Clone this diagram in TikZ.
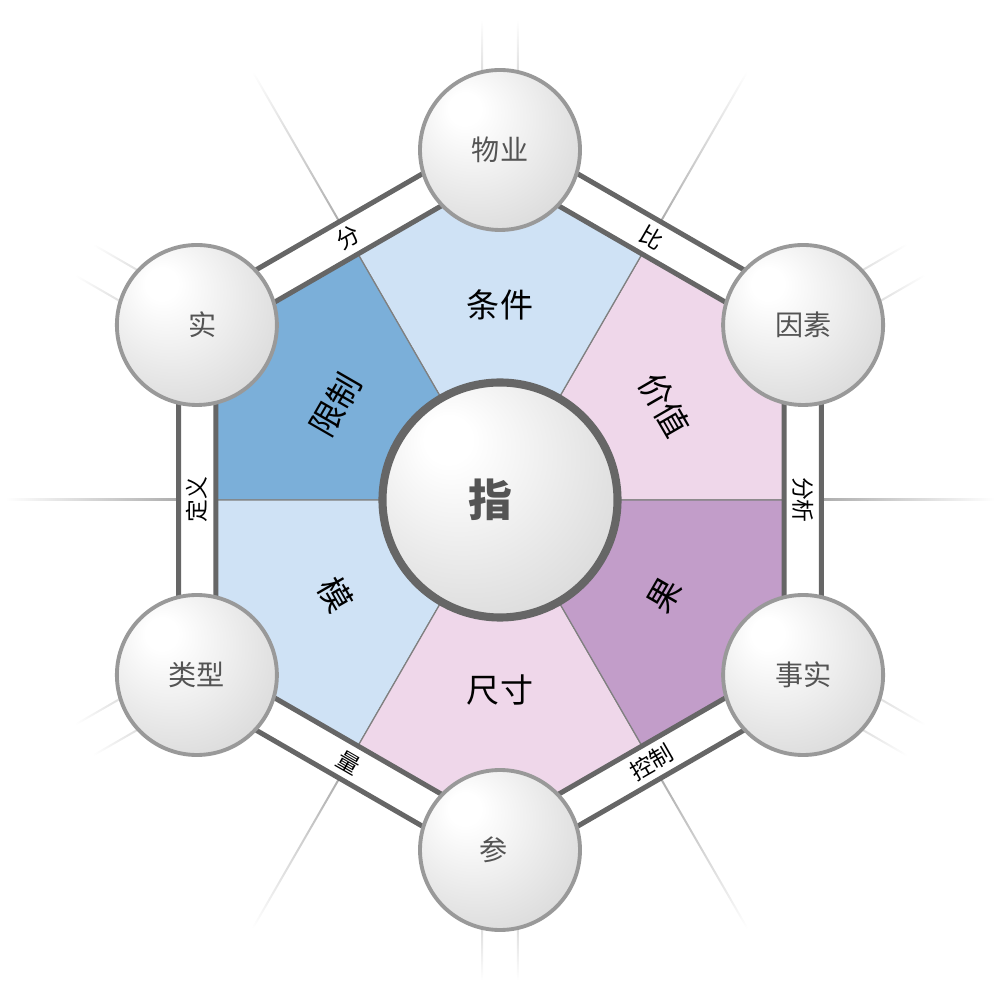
\documentclass[tikz,border=0pt]{standalone}
\usepackage{fontspec}
\newfontfamily\cjk{Noto Sans CJK SC}
\definecolor{paleblue}{HTML}{CFE2F5}
\definecolor{deepblue}{HTML}{7BAFD9}
\definecolor{palepink}{HTML}{EFD7EA}
\definecolor{mauve}{HTML}{C29DC9}
\pgfdeclareradialshading{orb}{\pgfqpoint{-12bp}{14bp}}{color(0bp)=(white); color(5bp)=(white); color(64bp)=(black!28)}
\tikzset{
  orbnode/.style={circle, minimum size=1.6cm, inner sep=0pt, draw=black!40, line width=1.1pt,
    shade, shading=orb, text=black!67, font=\cjk\fontsize{8}{9}\selectfont},
  hubnode/.style={circle, minimum size=2.35cm, inner sep=0pt, draw=black!60, line width=2.3pt,
    shade, shading=orb, text=black!67, font=\cjk\bfseries\fontsize{12.5}{14}\selectfont},
  sector/.style={draw=black!50, line width=0.35pt},
  frameline/.style={draw=black!60, line width=0.05cm, line join=round},
  seclabel/.style={font=\cjk\fontsize{9.4}{11}\selectfont, text=black},
  bandlabel/.style={font=\cjk\fontsize{6.5}{8}\selectfont, text=black, inner sep=1pt},
  ray/.style={left color=black!32, middle color=black!24, right color=white}
}
\begin{document}
\begin{tikzpicture}
  \useasboundingbox (-5,-5) rectangle (5,5);
  % fading rays
  \foreach \a in {0,60,...,300} {
    \begin{scope}[transform canvas={rotate=\a}]
      \shade[ray] (3.22,-0.01) rectangle (4.95,0.01);
    \end{scope}
  }
  \foreach \a in {30,90,...,330} {
    \begin{scope}[transform canvas={rotate=\a}]
      \shade[ray] (3.5,0.168) rectangle (4.8,0.188);
      \shade[ray] (3.5,-0.188) rectangle (4.8,-0.168);
    \end{scope}
  }
  % sectors
  \fill[palepink, sector] (0,0) -- (0:2.84) -- (30:3.28) -- (60:2.84) -- cycle;
  \fill[paleblue, sector] (0,0) -- (60:2.84) -- (90:3.28) -- (120:2.84) -- cycle;
  \fill[deepblue, sector] (0,0) -- (120:2.84) -- (150:3.28) -- (180:2.84) -- cycle;
  \fill[paleblue, sector] (0,0) -- (180:2.84) -- (210:3.28) -- (240:2.84) -- cycle;
  \fill[palepink, sector] (0,0) -- (240:2.84) -- (270:3.28) -- (300:2.84) -- cycle;
  \fill[mauve, sector] (0,0) -- (300:2.84) -- (330:3.28) -- (360:2.84) -- cycle;
  % frame
  \draw[frameline] (30:3.28) -- (90:3.28) -- (150:3.28) -- (210:3.28) -- (270:3.28) -- (330:3.28) -- cycle;
  \draw[frameline] (30:3.71) -- (90:3.71) -- (150:3.71) -- (210:3.71) -- (270:3.71) -- (330:3.71) -- cycle;
  % hub and orbs
  \node[hubnode] (hub) at (0,0) {\hspace*{-0.2cm}指};
  \node[orbnode] (wuye) at (90:3.5) {物业};
  \node[orbnode] (yinsu) at (30:3.5) {因素};
  \node[orbnode] (shishi) at (-30:3.5) {事实};
  \node[orbnode] (can) at (-90:3.5) {\hspace*{-0.12cm}参};
  \node[orbnode] (leixing) at (210:3.5) {类型};
  \node[orbnode] (shi) at (150:3.5) {\hspace*{0.12cm}实};
  % sector labels
  \node[seclabel] (tiaojian) at (90:1.95) {条件};
  \node[seclabel, rotate=-60] (jiazhi) at (30:1.9) {价值};
  \node[seclabel, rotate=60] (guo) at (-30:1.9) {果};
  \node[seclabel] (chicun) at (-90:1.9) {尺寸};
  \node[seclabel, rotate=-60] (mo) at (210:1.9) {模};
  \node[seclabel, rotate=60] (xianzhi) at (150:1.9) {限制};
  % band labels
  \node[bandlabel, rotate=-30] (bi) at (60:3.03) {比};
  \node[bandlabel, rotate=30] (fen) at (120:3.03) {分};
  \node[bandlabel, rotate=-90] (fenxi) at (0:3.03) {分析};
  \node[bandlabel, rotate=90] (dingyi) at (180:3.03) {定义};
  \node[bandlabel, rotate=30] (kongzhi) at (-60:3.03) {控制};
  \node[bandlabel, rotate=-30] (liang) at (-120:3.03) {量};
\end{tikzpicture}
\end{document}
